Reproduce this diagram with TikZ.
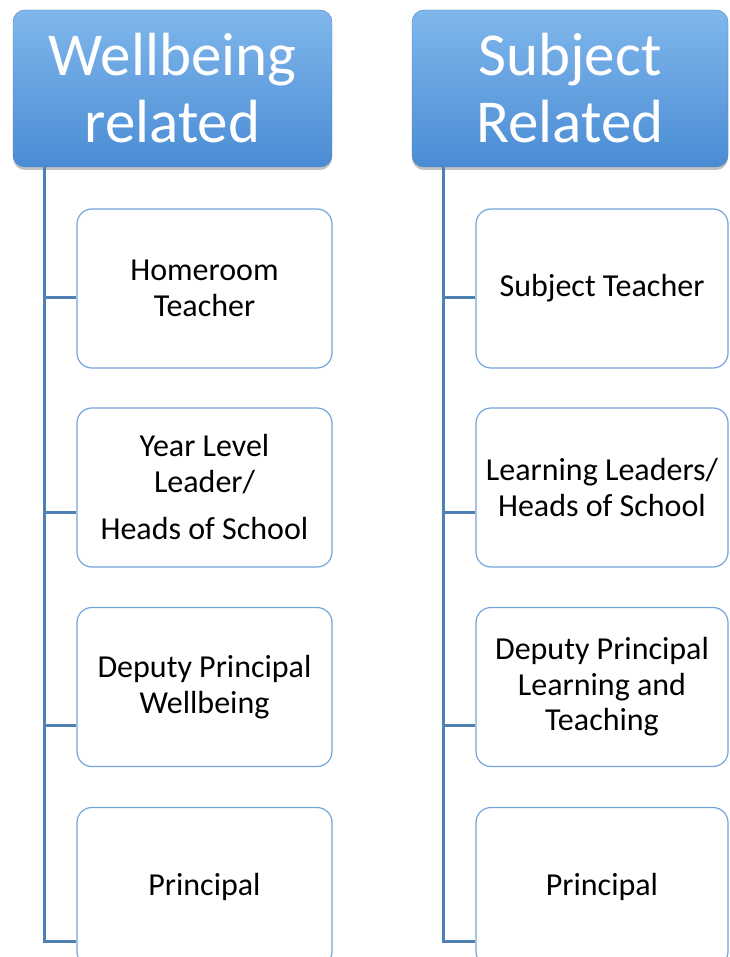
\documentclass[tikz,border=0pt]{standalone}
\usepackage{fontspec}
\setmainfont{Carlito}
\usepackage{xcolor}
\usetikzlibrary{shadows}
\definecolor{hdrtop}{HTML}{80B7EC}
\definecolor{hdrbot}{HTML}{4A8CD4}
\definecolor{hdredge}{HTML}{4A82BE}
\definecolor{boxedge}{HTML}{72A5DB}
\definecolor{spinecol}{HTML}{5081B5}

\begin{document}
\begin{tikzpicture}[x=1pt, y=-1pt,
    header/.style={rounded corners=12pt, draw=hdredge, top color=hdrtop, bottom color=hdrbot,
        minimum height=157pt, text=white, align=center,
        font=\fontsize{61}{67}\selectfont,
        drop shadow={shadow xshift=0pt, shadow yshift=-3pt, opacity=.35, fill=black!70}},
    role/.style={rounded corners=15pt, draw=boxedge, line width=1.2pt, fill=white,
        minimum height=159pt, align=center, font=\fontsize{32}{35.5}\selectfont},
    spine/.style={draw=spinecol, line width=3pt}
]
    \clip (0,0) rectangle (729,957);

    % Headers
    \node[header, minimum width=319pt] (hdrW) at (172.5,88.5) {Wellbeing\\related};
    \node[header, minimum width=316pt] (hdrS) at (570,88.5) {Subject\\Related};

    % Wellbeing column
    \node[role, minimum width=255pt] (w1) at (204.5,288.5) {Homeroom\\Teacher};
    \node[role, minimum width=255pt] (w2) at (204.5,487.5) {Year Level\\Leader/\\[12pt]Heads of School};
    \node[role, minimum width=255pt] (w3) at (204.5,687) {Deputy Principal\\Wellbeing};
    \node[role, minimum width=255pt] (w4) at (204.5,887) {Principal};

    % Subject column
    \node[role, minimum width=252pt] (s1) at (602,288.5) {Subject Teacher};
    \node[role, minimum width=252pt] (s2) at (602,487.5) {Learning Leaders/\\Heads of School};
    \node[role, minimum width=252pt] (s3) at (602,687) {Deputy Principal\\Learning and\\Teaching};
    \node[role, minimum width=252pt] (s4) at (602,887) {Principal};

    % Spines
    \draw[spine] ([xshift=32pt]hdrW.south west) |- ([yshift=-8.5pt]w1.west);
    \draw[spine] ([xshift=32pt]hdrW.south west) |- ([yshift=-24.5pt]w2.west);
    \draw[spine] ([xshift=32pt]hdrW.south west) |- ([yshift=-38.5pt]w3.west);
    \draw[spine] ([xshift=32pt]hdrW.south west) |- ([yshift=-54pt]w4.west);
    \draw[spine] ([xshift=31.5pt]hdrS.south west) |- ([yshift=-8.5pt]s1.west);
    \draw[spine] ([xshift=31.5pt]hdrS.south west) |- ([yshift=-24.5pt]s2.west);
    \draw[spine] ([xshift=31.5pt]hdrS.south west) |- ([yshift=-38.5pt]s3.west);
    \draw[spine] ([xshift=31.5pt]hdrS.south west) |- ([yshift=-54pt]s4.west);
\end{tikzpicture}
\end{document}
